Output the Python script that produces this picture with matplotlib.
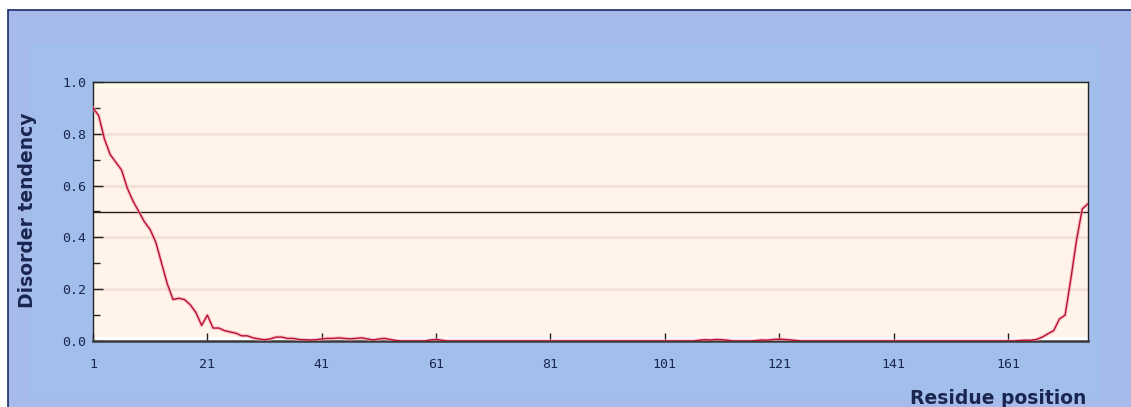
import matplotlib
matplotlib.use("Agg")
import matplotlib.pyplot as plt
from matplotlib.patches import Rectangle
from matplotlib.ticker import MultipleLocator, FixedLocator

# Predicted disorder tendency for each residue (1..175)
residues = list(range(1, 176))
disorder = [
    0.90, 0.87, 0.78, 0.72, 0.69, 0.66, 0.59, 0.54, 0.50, 0.46,   # 1-10
    0.43, 0.38, 0.30, 0.22, 0.16, 0.165, 0.16, 0.14, 0.11, 0.06,  # 11-20
    0.10, 0.05, 0.05, 0.04, 0.035, 0.03, 0.02, 0.02, 0.012, 0.008,  # 21-30
    0.005, 0.008, 0.015, 0.015, 0.010, 0.010, 0.006, 0.005, 0.004, 0.005,  # 31-40
    0.008, 0.010, 0.010, 0.012, 0.010, 0.008, 0.010, 0.012, 0.008, 0.004,  # 41-50
    0.008, 0.010, 0.006, 0.002, 0.000, 0.000, 0.000, 0.000, 0.000, 0.004,  # 51-60
    0.006, 0.003, 0.000, 0.000, 0.000, 0.000, 0.000, 0.000, 0.000, 0.000,  # 61-70
    0.000, 0.000, 0.000, 0.000, 0.000, 0.000, 0.000, 0.000, 0.000, 0.000,  # 71-80
    0.000, 0.000, 0.000, 0.000, 0.000, 0.000, 0.000, 0.000, 0.000, 0.000,  # 81-90
    0.000, 0.000, 0.000, 0.000, 0.000, 0.000, 0.000, 0.000, 0.000, 0.000,  # 91-100
    0.000, 0.000, 0.000, 0.000, 0.000, 0.000, 0.003, 0.005, 0.004, 0.006,  # 101-110
    0.005, 0.003, 0.000, 0.000, 0.000, 0.000, 0.002, 0.004, 0.003, 0.006,  # 111-120
    0.007, 0.006, 0.004, 0.002, 0.000, 0.000, 0.000, 0.000, 0.000, 0.000,  # 121-130
    0.000, 0.000, 0.000, 0.000, 0.000, 0.000, 0.000, 0.000, 0.000, 0.000,  # 131-140
    0.000, 0.000, 0.000, 0.000, 0.000, 0.000, 0.000, 0.000, 0.000, 0.000,  # 141-150
    0.000, 0.000, 0.000, 0.000, 0.000, 0.000, 0.000, 0.000, 0.000, 0.000,  # 151-160
    0.000, 0.000, 0.002, 0.003, 0.003, 0.006, 0.015, 0.028, 0.040, 0.085,  # 161-170
    0.100, 0.240, 0.390, 0.510, 0.530,                                     # 171-175
]
threshold = 0.5
x_ticks = [1, 21, 41, 61, 81, 101, 121, 141, 161]
y_ticks = [0.0, 0.2, 0.4, 0.6, 0.8, 1.0]

W, H = 1131, 407
fig = plt.figure(figsize=(W / 100, H / 100), dpi=100, facecolor="white")

# Blue panel with dark frame
navy = "#1c2a66"
fig.patches.append(Rectangle((8 / W, -0.01), 1 - 8 / W + 0.01, (H - 10) / H + 0.01,
                             transform=fig.transFigure, facecolor="#a6bbe9",
                             edgecolor=navy, linewidth=1.2, zorder=-10))
fig.patches.append(Rectangle((30 / W, 0.02), 1 - 60 / W, (H - 50) / H,
                             transform=fig.transFigure, facecolor="#a2bfeb",
                             edgecolor="none", linewidth=0, zorder=-9))

ax = fig.add_axes([93 / W, 66 / H, (1088 - 93) / W, (341 - 82) / H])
ax.set_zorder(5)
ax.set_facecolor("#fff3ea")

# Faint horizontal bands
for yv in [0.2, 0.4, 0.6, 0.8]:
    ax.axhline(yv, color="#f3e2d8", linewidth=2.2, zorder=1)
ax.axhspan(0.975, 1.0, color="#fdfbe9", zorder=1, linewidth=0)
ax.axhspan(0.0, 0.015, color="#ffffff", zorder=1, linewidth=0)

ax.axhline(threshold, color="#2a1a1a", linewidth=1.0, zorder=2)
ax.plot(residues, disorder, color="#f4a6b4", linewidth=2.6, alpha=0.6, zorder=3)
ax.plot(residues, disorder, color="#b8102e", linewidth=1.0, zorder=4)

ax.set_xlim(1, 175)
ax.set_ylim(0, 1.0)
ax.xaxis.set_major_locator(FixedLocator(x_ticks))
ax.set_xticklabels([str(v) for v in x_ticks])
ax.yaxis.set_major_locator(FixedLocator(y_ticks))
ax.set_yticklabels([f"{v:.1f}" for v in y_ticks])
ax.yaxis.set_minor_locator(MultipleLocator(0.1))

label_col = "#1a2650"
ax.tick_params(axis="both", which="both", direction="in", colors="#222222",
               labelcolor=label_col, labelsize=9.5)
ax.tick_params(axis="y", which="major", length=7, width=1, pad=5)
ax.tick_params(axis="y", which="minor", length=5, width=1)
ax.tick_params(axis="x", which="major", length=6, width=1, pad=12)
for lab in ax.get_xticklabels() + ax.get_yticklabels():
    lab.set_family("DejaVu Sans Mono")

for side, sp in ax.spines.items():
    sp.set_color("#222222")
    sp.set_linewidth(1.0)
ax.spines["bottom"].set_color("#3a3a3a")
ax.spines["bottom"].set_linewidth(1.8)

fig.text(28 / W, 1 - 210 / H, "Disorder tendency", rotation=90, ha="center",
         va="center", fontsize=13.5, fontweight="bold", color=label_col)
fig.text(1086 / W, 1 - 398 / H, "Residue position", ha="right", va="center",
         fontsize=13.5, fontweight="bold", color=label_col)

fig.savefig("out.png", dpi=100, facecolor=fig.get_facecolor())
